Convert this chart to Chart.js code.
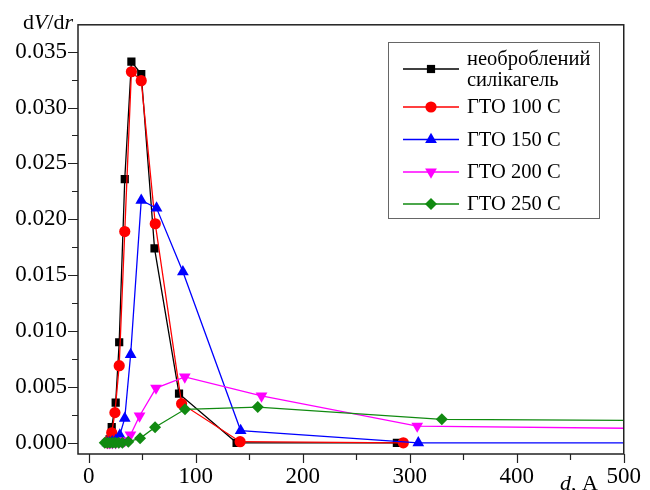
<!DOCTYPE html>
<html>
<head>
<meta charset="utf-8">
<script src="https://cdn.jsdelivr.net/npm/chart.js@4.4.1/dist/chart.umd.min.js"></script>
<style>
  html, body { margin: 0; padding: 0; background: #fff; }
</style>
</head>
<body>
<canvas id="chart" width="650" height="490"></canvas>
<script>
// pore diameter d (A) and dV/dr values
const seriesNames = ['необроблений\nсилікагель', 'ГТО 100 C', 'ГТО 150 C', 'ГТО 200 C', 'ГТО 250 C'];

const xRaw = [17.5, 19.5, 21.5, 25.2, 28.5, 33.7, 39.9, 49.1, 61.5, 84.4, 138.2, 288];
const yRaw = [0.0000, 0.0003, 0.0014, 0.0036, 0.0090, 0.0236, 0.0341, 0.0330, 0.0174, 0.0044, 0.0000, 0.0000];

const x100 = [17.5, 19.5, 21.5, 24.5, 28.5, 33.7, 39.9, 49.1, 62.2, 86.8, 141.5, 294];
const y100 = [0.0000, 0.0002, 0.0009, 0.0027, 0.0069, 0.0189, 0.0332, 0.0324, 0.0196, 0.0035, 0.0001, 0.0000];

const x150 = [17.5, 19.5, 22, 25.2, 29.1, 33.7, 39.2, 49.1, 63.4, 88, 142, 308, 700];
const y150 = [0.0000, 0.0000, 0.0001, 0.0002, 0.0007, 0.0022, 0.0079, 0.0217, 0.0210, 0.0153, 0.0011, 0.0000, 0.0000];

const x200 = [17.5, 19.5, 22, 25.2, 29, 33.7, 39, 47.5, 62.9, 89.8, 161.5, 307, 700];
const y200 = [0.0000, 0.0000, 0.0000, 0.0000, 0.0001, 0.0002, 0.0007, 0.0024, 0.0049, 0.0059, 0.0042, 0.0015, 0.0011];

const x250 = [15, 17.5, 20, 22.5, 25, 28, 31.5, 37, 48, 62, 90, 158, 330, 700];
const y250 = [0.0000, 0.0000, 0.0000, 0.0000, 0.0000, 0.0000, 0.0000, 0.0001, 0.0004, 0.0014, 0.0030, 0.0032, 0.0021, 0.0019];

// axis ticks
const xMajorTicks = [0, 100, 200, 300, 400, 500];
const xMinorTicks = [50, 150, 250, 350, 450];
const yMajorTicks = [0.000, 0.005, 0.010, 0.015, 0.020, 0.025, 0.030, 0.035];
const yMinorTicks = [0.0025, 0.0075, 0.0125, 0.0175, 0.0225, 0.0275, 0.0325];

const FONT = "'Liberation Serif', 'Times New Roman', serif";

const styles = [
  { color: '#000000', pointStyle: 'rect', radius: 5.8, rotation: 0 },
  { color: '#ff0000', pointStyle: 'circle', radius: 5.6, rotation: 0 },
  { color: '#0000ff', pointStyle: 'triangle', radius: 6.8, rotation: 0 },
  { color: '#ff00ff', pointStyle: 'triangle', radius: 6.8, rotation: 180 },
  { color: '#118a11', pointStyle: 'rectRot', radius: 6, rotation: 0 }
];

function toPoints(xs, ys) {
  return xs.map((x, i) => ({ x: x, y: ys[i] }));
}

const allData = [
  toPoints(xRaw, yRaw),
  toPoints(x100, y100),
  toPoints(x150, y150),
  toPoints(x200, y200),
  toPoints(x250, y250)
];

const datasets = allData.map((pts, i) => ({
  label: seriesNames[i],
  data: pts,
  borderColor: styles[i].color,
  backgroundColor: styles[i].color,
  borderWidth: 1.3,
  pointStyle: styles[i].pointStyle,
  pointRadius: styles[i].radius,
  pointRotation: styles[i].rotation,
  pointBorderWidth: 0,
  pointHoverRadius: styles[i].radius,
  tension: 0,
  order: 4 - i // last series drawn on top
}));

// frame, tick marks, axis titles and legend drawn by hand
const decorations = {
  id: 'decorations',
  afterDraw(chart) {
    const ctx = chart.ctx;
    const area = chart.chartArea;
    const xs = chart.scales.x;
    const ys = chart.scales.y;
    ctx.save();
    ctx.strokeStyle = '#222';
    ctx.lineWidth = 1.5;
    ctx.strokeRect(area.left, area.top, area.right - area.left, area.bottom - area.top);

    ctx.lineWidth = 1.2;
    ctx.beginPath();
    xMajorTicks.forEach(v => {
      const px = Math.round(xs.getPixelForValue(v)) + 0.5;
      ctx.moveTo(px, area.bottom); ctx.lineTo(px, area.bottom + 9);
    });
    xMinorTicks.forEach(v => {
      const px = Math.round(xs.getPixelForValue(v)) + 0.5;
      ctx.moveTo(px, area.bottom); ctx.lineTo(px, area.bottom + 6);
    });
    yMajorTicks.forEach(v => {
      const py = Math.round(ys.getPixelForValue(v)) + 0.5;
      ctx.moveTo(area.left, py); ctx.lineTo(area.left - 10, py);
    });
    yMinorTicks.forEach(v => {
      const py = Math.round(ys.getPixelForValue(v)) + 0.5;
      ctx.moveTo(area.left, py); ctx.lineTo(area.left - 6, py);
    });
    ctx.stroke();

    // y title: dV/dr
    ctx.fillStyle = '#000';
    ctx.textBaseline = 'alphabetic';
    const parts = [['d', false], ['V', true], ['/d', false], ['r', true]];
    const font = it => (it ? 'italic ' : '') + '22px ' + FONT;
    let w = 0;
    parts.forEach(p => { ctx.font = font(p[1]); w += ctx.measureText(p[0]).width; });
    let tx = 73 - w;
    parts.forEach(p => { ctx.font = font(p[1]); ctx.fillText(p[0], tx, 29); tx += ctx.measureText(p[0]).width; });

    // x title: d, A
    ctx.font = font(true);
    ctx.fillText('d', 560, 490);
    tx = 560 + ctx.measureText('d').width;
    ctx.font = font(false);
    ctx.fillText(', A', tx, 490);

    // legend
    const lx = 388, ly = 42, lw = 211, lh = 176;
    ctx.fillStyle = '#fff';
    ctx.fillRect(lx, ly, lw, lh);
    ctx.strokeStyle = '#666';
    ctx.lineWidth = 1;
    ctx.strokeRect(lx + 0.5, ly + 0.5, lw, lh);
    const rows = [69, 107, 139.5, 172, 204];
    chart.data.datasets.forEach((ds, i) => {
      const y = rows[i];
      const st = styles[i];
      ctx.strokeStyle = st.color;
      ctx.lineWidth = 1.3;
      ctx.beginPath();
      ctx.moveTo(403, y); ctx.lineTo(459, y);
      ctx.stroke();
      ctx.fillStyle = st.color;
      Chart.helpers.drawPoint(ctx, {
        pointStyle: st.pointStyle, radius: st.radius, rotation: st.rotation, borderWidth: 0
      }, 431, y);
      ctx.fillStyle = '#000';
      ctx.font = '20.5px ' + FONT;
      const lines = ds.label.split('\n');
      if (lines.length === 1) {
        ctx.textBaseline = 'middle';
        ctx.fillText(lines[0], 467, y + 1);
      } else {
        ctx.textBaseline = 'alphabetic';
        ctx.fillText(lines[0], 467, 65);
        ctx.fillText(lines[1], 467, 86);
      }
    });
    ctx.restore();
  }
};

new Chart(document.getElementById('chart'), {
  type: 'line',
  data: { datasets: datasets },
  options: {
    responsive: false,
    animation: false,
    events: [],
    layout: { padding: { top: 24, right: 18, left: 0, bottom: 0 } },
    plugins: {
      legend: { display: false },
      tooltip: { enabled: false }
    },
    scales: {
      x: {
        type: 'linear',
        min: -10,
        max: 500,
        grid: { display: false, drawTicks: false },
        border: { display: false },
        afterFit: s => { s.height = 36; },
        afterBuildTicks: s => { s.ticks = xMajorTicks.map(v => ({ value: v })); },
        ticks: {
          color: '#000',
          padding: 9,
          maxRotation: 0,
          autoSkip: false,
          font: { family: FONT, size: 23 },
          callback: v => String(v)
        }
      },
      y: {
        type: 'linear',
        min: -0.001,
        max: 0.0374,
        grid: { display: false, drawTicks: false },
        border: { display: false },
        afterFit: s => { s.width = 78; },
        afterBuildTicks: s => { s.ticks = yMajorTicks.map(v => ({ value: v })); },
        ticks: {
          color: '#000',
          padding: 11,
          autoSkip: false,
          font: { family: FONT, size: 23 },
          callback: v => v.toFixed(3)
        }
      }
    }
  },
  plugins: [decorations]
});
</script>
</body>
</html>
